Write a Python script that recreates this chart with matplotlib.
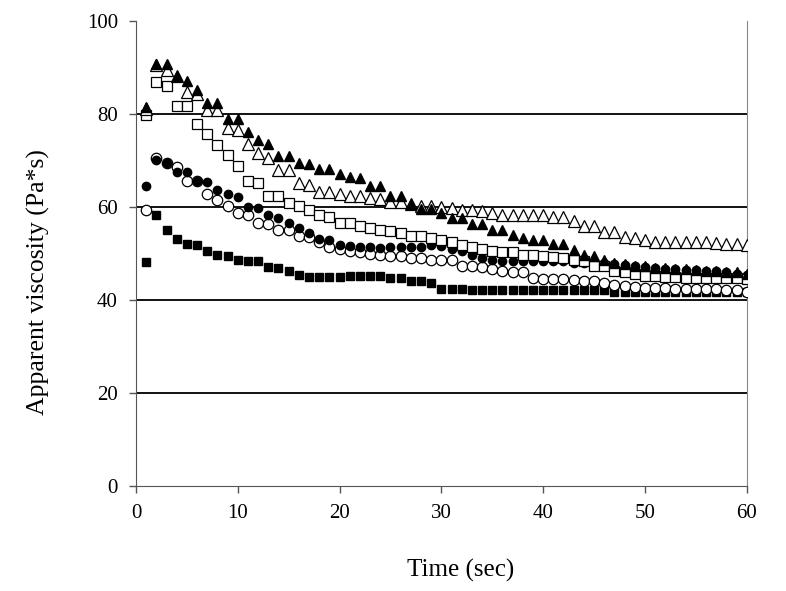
import numpy as np
import matplotlib
matplotlib.use("Agg")
import matplotlib.pyplot as plt

plt.rcParams['font.family'] = ['Liberation Serif', 'DejaVu Serif']

time = np.arange(1, 61)

filled_square = [48.1, 58.2, 55.1, 53.1, 51.9, 51.7, 50.5, 49.7, 49.5, 48.6,
                 48.3, 48.3, 47.0, 46.8, 46.2, 45.4, 44.8, 44.8, 44.8, 44.8,
                 45.2, 45.2, 45.2, 45.2, 44.6, 44.6, 44.0, 44.0, 43.6, 42.4,
                 42.4, 42.4, 42.1, 42.1, 42.0, 42.0, 42.0, 42.0, 42.0, 42.0,
                 42.0, 42.0, 42.0, 42.0, 42.0, 42.0, 41.6, 41.6, 41.6, 41.6,
                 41.6, 41.6, 41.6, 41.6, 41.6, 41.6, 41.6, 41.6, 41.6, 41.6]

open_circle = [59.2, 70.5, 69.4, 68.5, 65.5, 65.5, 62.7, 61.4, 60.2, 58.6,
               58.2, 56.6, 56.3, 55.1, 55.1, 53.7, 53.5, 52.5, 51.3, 51.0,
               50.5, 50.2, 49.9, 49.7, 49.4, 49.3, 49.0, 48.9, 48.6, 48.5,
               48.5, 47.2, 47.2, 47.0, 46.7, 46.2, 46.0, 46.0, 44.6, 44.4,
               44.4, 44.4, 44.2, 44.0, 44.0, 43.6, 43.2, 42.9, 42.8, 42.6,
               42.6, 42.6, 42.4, 42.4, 42.4, 42.4, 42.4, 42.0, 42.0, 41.6]

filled_circle = [64.4, 70.1, 69.4, 67.5, 67.4, 65.5, 65.3, 63.7, 62.7, 62.1,
                 60.0, 59.8, 58.2, 57.5, 56.6, 55.5, 54.3, 53.1, 52.8, 51.7,
                 51.5, 51.3, 51.3, 51.1, 51.3, 51.3, 51.3, 51.3, 51.7, 51.5,
                 51.0, 50.5, 49.7, 49.0, 48.5, 48.3, 48.3, 48.3, 48.3, 48.3,
                 48.3, 48.3, 48.0, 48.0, 47.8, 47.8, 47.6, 47.5, 47.2, 47.0,
                 46.8, 46.7, 46.7, 46.4, 46.4, 46.2, 46.2, 45.9, 45.6, 45.4]

open_square = [79.7, 86.8, 86.0, 81.6, 81.6, 77.7, 75.6, 73.2, 71.2, 68.8,
               65.5, 65.1, 62.4, 62.4, 60.8, 60.2, 59.4, 58.2, 57.8, 56.6,
               56.6, 55.8, 55.5, 55.0, 54.7, 54.3, 53.7, 53.7, 53.3, 52.9,
               52.5, 51.7, 51.3, 50.9, 50.5, 50.2, 50.2, 49.7, 49.7, 49.4,
               49.1, 48.9, 48.5, 48.3, 47.2, 47.2, 46.2, 46.0, 45.6, 45.2,
               45.0, 44.8, 44.8, 44.6, 44.6, 44.6, 44.6, 44.6, 44.6, 44.4]

open_triangle = [81.0, 90.5, 89.4, 88.2, 84.7, 84.2, 80.9, 80.9, 77.0, 76.5,
                 73.4, 71.6, 70.5, 67.9, 67.9, 65.1, 64.7, 63.2, 63.1, 62.8,
                 62.4, 62.3, 61.9, 61.6, 61.0, 61.0, 60.6, 60.2, 60.2, 60.0,
                 59.8, 59.4, 59.2, 59.0, 58.6, 58.2, 58.2, 58.2, 58.2, 58.2,
                 57.8, 57.8, 57.0, 55.9, 55.9, 54.5, 54.5, 53.5, 53.3, 52.9,
                 52.5, 52.5, 52.5, 52.5, 52.5, 52.5, 52.1, 51.9, 51.9, 51.7]

filled_triangle = [81.5, 90.7, 90.7, 88.2, 87.0, 85.1, 82.4, 82.4, 78.9, 78.9,
                   76.0, 74.4, 73.5, 71.0, 71.0, 69.4, 69.2, 68.2, 68.2, 67.1,
                   66.3, 66.1, 64.5, 64.5, 62.3, 62.3, 60.6, 59.6, 59.6, 58.6,
                   57.5, 57.5, 56.2, 56.2, 55.0, 55.0, 54.0, 53.3, 52.9, 52.9,
                   51.9, 51.9, 50.7, 49.7, 49.3, 48.5, 48.0, 47.6, 47.2, 47.2,
                   46.8, 46.8, 46.7, 46.7, 46.4, 46.2, 46.2, 46.0, 45.9, 45.6]

fig = plt.figure(figsize=(7.86, 5.91), dpi=100)
ax = fig.add_axes([0.173, 0.178, 0.777, 0.787])

for yv in [20, 40, 60, 80]:
    ax.axhline(yv, color='black', lw=1.3, zorder=1)

ax.plot(time, filled_square, 's', ms=6, mfc='black', mec='black', ls='none', zorder=3)
ax.plot(time, open_circle, 'o', ms=7.5, mfc='white', mec='black', mew=0.9, ls='none', zorder=3)
ax.plot(time, filled_circle, 'o', ms=6, mfc='black', mec='black', ls='none', zorder=3)
ax.plot(time, open_square, 's', ms=7.5, mfc='white', mec='black', mew=0.9, ls='none', zorder=3)
ax.plot(time, open_triangle, '^', ms=8, mfc='white', mec='black', mew=0.9, ls='none', zorder=3)
ax.plot(time, filled_triangle, '^', ms=7, mfc='black', mec='black', ls='none', zorder=3)

ax.set_xlim(0, 60)
ax.set_ylim(0, 100)
ax.set_xticks(range(0, 61, 10))
ax.set_yticks(range(0, 101, 20))

ax.spines['top'].set_visible(False)
ax.spines['right'].set_color('#888888')
ax.spines['left'].set_color('#555555')
ax.spines['bottom'].set_color('#555555')
ax.tick_params(direction='out', length=5, width=1, colors='#555555', labelcolor='black',
               labelsize=15, pad=8)

ax.set_xlabel('Time (sec)', fontsize=18)
ax.set_ylabel('Apparent viscosity (Pa*s)', fontsize=18.5)
# labels sit a bit off-centre in the original
ax.xaxis.set_label_coords(0.532, -0.157)
ax.yaxis.set_label_coords(-0.141, 0.439)

fig.savefig('out.png', dpi=100)
